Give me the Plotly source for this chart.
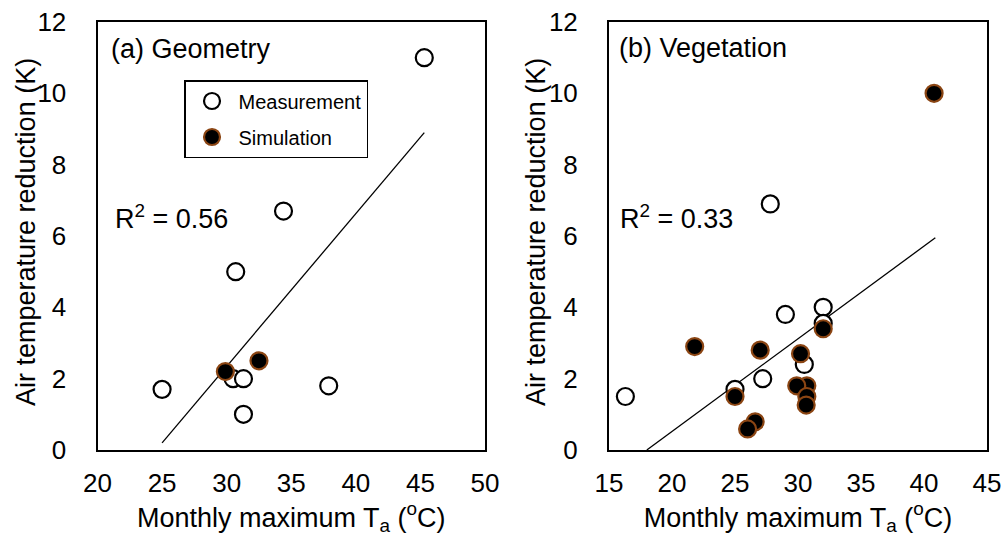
import plotly.graph_objects as go

# ---- data ----
geo_meas_x = [45.3, 34.4, 30.7, 30.5, 31.3, 25.0, 37.9, 31.3]
geo_meas_y = [11.0, 6.7, 5.0, 2.0, 2.0, 1.7, 1.8, 1.0]
geo_sim_x = [29.9, 32.5]
geo_sim_y = [2.2, 2.5]
geo_fit_x = [25.0, 45.3]
geo_fit_y = [0.2, 8.9]
geo_r2 = "0.56"

veg_meas_x = [27.8, 29.0, 32.0, 32.0, 30.5, 27.2, 25.0, 16.3]
veg_meas_y = [6.9, 3.8, 4.0, 3.55, 2.4, 2.0, 1.7, 1.5]
veg_sim_x = [40.8, 32.0, 21.8, 27.0, 30.2, 25.0, 30.7, 29.9, 30.7, 30.65, 26.6, 26.0]
veg_sim_y = [10.0, 3.4, 2.9, 2.8, 2.7, 1.5, 1.8, 1.8, 1.5, 1.26, 0.79, 0.59]
veg_fit_x = [18.0, 40.9]
veg_fit_y = [0.0, 5.95]
veg_r2 = "0.33"

x_ticks_a = [20, 25, 30, 35, 40, 45, 50]
x_ticks_b = [15, 20, 25, 30, 35, 40, 45]
y_ticks = [0, 2, 4, 6, 8, 10, 12]

W, H = 1006, 538
FONT = "Liberation Sans, Arial, sans-serif"
BROWN = "#8B4513"

fig = go.Figure()

def add_panel(xa, ya, fx, fy, mx, my, sx, sy, show):
    fig.add_trace(go.Scatter(x=fx, y=fy, mode="lines", line=dict(color="black", width=1.3),
                             xaxis=xa, yaxis=ya, showlegend=False, hoverinfo="skip"))
    fig.add_trace(go.Scatter(x=mx, y=my, mode="markers", name="Measurement",
                             legendgroup="m", showlegend=show,
                             marker=dict(size=17, color="white", line=dict(color="black", width=2.2)),
                             xaxis=xa, yaxis=ya))
    fig.add_trace(go.Scatter(x=sx, y=sy, mode="markers", name="Simulation",
                             legendgroup="s", showlegend=show,
                             marker=dict(size=17, color="black", line=dict(color=BROWN, width=2.2)),
                             xaxis=xa, yaxis=ya))

add_panel("x", "y", geo_fit_x, geo_fit_y, geo_meas_x, geo_meas_y, geo_sim_x, geo_sim_y, True)
add_panel("x2", "y2", veg_fit_x, veg_fit_y, veg_meas_x, veg_meas_y, veg_sim_x, veg_sim_y, False)

ydom = [1 - 450 / H, 1 - 22 / H]
axis_common = dict(showgrid=False, zeroline=False, showline=True, linecolor="black",
                   linewidth=2, mirror=True, ticks="", automargin=False,
                   tickfont=dict(size=26, color="black"),
                   title_font=dict(size=27, color="black"))

xtitle = "Monthly maximum T<sub>a</sub> (<sup>o</sup>C)"
ytitle = "Air temperature reduction (K)"

ann_font = dict(size=27, color="black")
ycen = 1 - 232 / H

fig.update_layout(
    width=W, height=H,
    margin=dict(l=0, r=0, t=0, b=0, autoexpand=False),
    paper_bgcolor="white", plot_bgcolor="white",
    font=dict(family=FONT, color="black"),
    xaxis=dict(axis_common, domain=[97.5 / W, 485 / W], range=[20, 50], tickvals=x_ticks_a,
               anchor="y", ticklabelstandoff=9, title=dict(text=xtitle, standoff=4)),
    yaxis=dict(axis_common, domain=ydom, range=[0, 12], tickvals=y_ticks, anchor="x",
               ticklabelstandoff=24),
    xaxis2=dict(axis_common, domain=[609 / W, 987 / W], range=[15, 45], tickvals=x_ticks_b,
                anchor="y2", ticklabelstandoff=9, title=dict(text=xtitle, standoff=4)),
    yaxis2=dict(axis_common, domain=ydom, range=[0, 12], tickvals=y_ticks, anchor="x2",
                ticklabelstandoff=24),
    legend=dict(x=184 / W, y=1 - 80 / H, xanchor="left", yanchor="top",
                bordercolor="black", borderwidth=1.5, bgcolor="white",
                font=dict(size=20, color="black"), traceorder="grouped",
                tracegroupgap=7, itemsizing="trace", itemwidth=43),
    annotations=[
        dict(text=ytitle, xref="paper", yref="paper", x=26 / W, y=ycen, textangle=-90,
             xanchor="center", yanchor="middle", showarrow=False, font=ann_font),
        dict(text=ytitle, xref="paper", yref="paper", x=536 / W, y=ycen, textangle=-90,
             xanchor="center", yanchor="middle", showarrow=False, font=ann_font),
        dict(text="(a) Geometry", xref="paper", yref="paper", x=109 / W, y=1 - 49 / H,
             xanchor="left", yanchor="middle", showarrow=False, font=ann_font),
        dict(text="R<sup>2</sup> = " + geo_r2, xref="paper", yref="paper", x=113 / W, y=1 - 217 / H,
             xanchor="left", yanchor="middle", showarrow=False, font=ann_font),
        dict(text="(b) Vegetation", xref="paper", yref="paper", x=617 / W, y=1 - 48 / H,
             xanchor="left", yanchor="middle", showarrow=False, font=ann_font),
        dict(text="R<sup>2</sup> = " + veg_r2, xref="paper", yref="paper", x=618 / W, y=1 - 217 / H,
             xanchor="left", yanchor="middle", showarrow=False, font=ann_font),
    ],
)

fig.write_html("out.html")
